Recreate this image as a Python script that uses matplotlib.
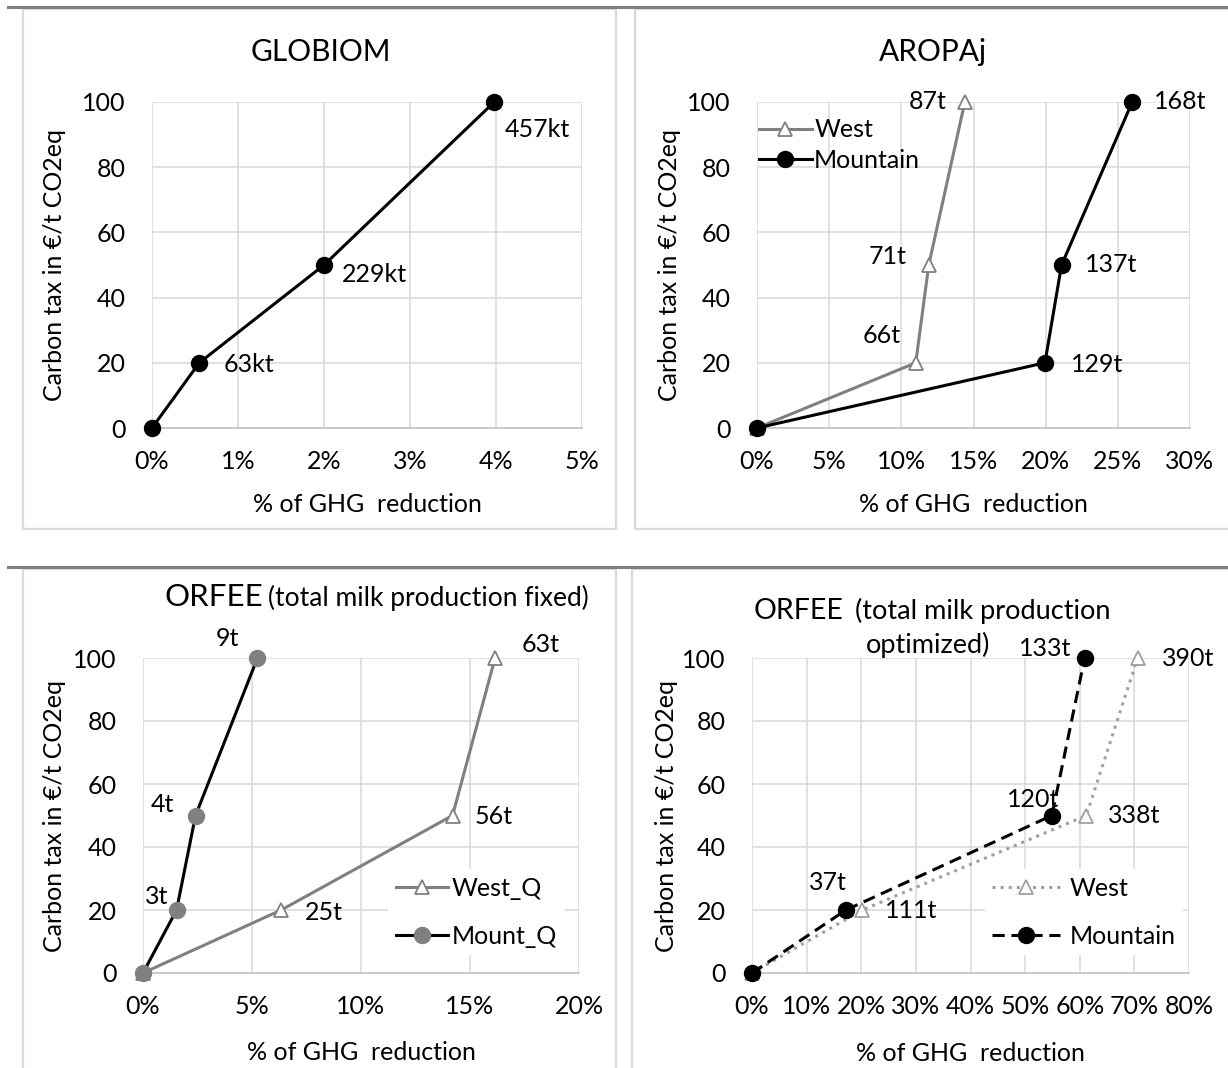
import matplotlib.pyplot as plt
from matplotlib.lines import Line2D
from matplotlib.patches import Rectangle

plt.rcParams['font.family'] = ['Lato', 'DejaVu Sans']
FS = 18

# carbon tax levels (€/t CO2eq)
tax = [0, 20, 50, 100]

# GLOBIOM
globiom_red = [0, 0.55, 2.0, 3.98]
globiom_lbl = ['', '63kt', '229kt', '457kt']

# AROPAj
aropaj_west = [0, 11.0, 11.9, 14.4]
aropaj_west_lbl = ['', '66t', '71t', '87t']
aropaj_mount = [0, 19.95, 21.1, 26.0]
aropaj_mount_lbl = ['', '129t', '137t', '168t']

# ORFEE, total milk production fixed
fix_west = [0, 6.34, 14.2, 16.15]
fix_west_lbl = ['', '25t', '56t', '63t']
fix_mount = [0, 1.54, 2.41, 5.25]
fix_mount_lbl = ['', '3t', '4t', '9t']

# ORFEE, total milk production optimized
opt_west = [0, 20.2, 61.2, 70.6]
opt_west_lbl = ['', '111t', '338t', '390t']
opt_mount = [0, 17.2, 54.9, 60.9]
opt_mount_lbl = ['', '37t', '120t', '133t']

W, H = 1228, 1068
fig = plt.figure(figsize=(W / 100, H / 100), dpi=100)


def fx(x):
    return x / W


def fy(y):
    return 1 - y / H


def make_axes(x0, x1, y0, y1):
    ax = fig.add_axes([fx(x0), fy(y1), (x1 - x0) / W, (y1 - y0) / H])
    ax.set_axisbelow(True)
    ax.grid(True, color='#D9D9D9', lw=1.1)
    for s in ['top', 'right', 'left']:
        ax.spines[s].set_visible(False)
    ax.spines['bottom'].set_color('#BFBFBF')
    ax.spines['bottom'].set_linewidth(1.1)
    ax.tick_params(axis='both', length=0, labelsize=FS)
    ax.tick_params(axis='y', pad=19)
    ax.tick_params(axis='x', pad=16)
    ax.set_ylim(0, 100)
    ax.set_yticks([0, 20, 40, 60, 80, 100])
    return ax


def finish(ax, xmax, step, ylab_x, xlab_y):
    ticks = list(range(0, xmax + 1, step))
    ax.set_xlim(0, xmax)
    ax.set_xticks(ticks, [f'{t}%' for t in ticks])
    ax.set_ylabel('Carbon tax in €/t CO2eq', fontsize=FS)
    ax.yaxis.set_label_coords(ylab_x, 0.5)
    ax.yaxis.label.set_va('center')
    ax.set_xlabel('% of GHG  reduction', fontsize=FS)
    ax.xaxis.set_label_coords(0.5, xlab_y)
    ax.xaxis.label.set_va('center')


def labels(ax, xs, ys, texts, offs, ha):
    for x, y, t, (dx, dy) in zip(xs, ys, texts, offs):
        if t:
            ax.annotate(t, (x, y), xytext=(dx * 0.72, -dy * 0.72), textcoords='offset points',
                        ha=ha, va='center', fontsize=FS)


# panel frames and separator lines
for x0, y0, x1, y1 in [(23, 9, 616, 529), (635, 9, 1240, 529), (23, 569, 616, 1075), (632, 569, 1240, 1075)]:
    fig.add_artist(Rectangle((fx(x0), fy(y1)), (x1 - x0) / W, (y1 - y0) / H, transform=fig.transFigure,
                             fill=False, ec='#D9D9D9', lw=1.6))
for yy in [6.5, 566.5]:
    fig.add_artist(Line2D([fx(8), 1], [fy(yy), fy(yy)], transform=fig.transFigure, color='#808080', lw=2.2))

black_kw = dict(color='black', lw=2.2, marker='o', ms=11.5, clip_on=False, zorder=3)
tri_kw = dict(color='#808080', lw=2.2, marker='^', ms=10, mfc='white', mec='#808080', mew=1.3,
              clip_on=False, zorder=3)

# GLOBIOM
ax1 = make_axes(152, 582, 102, 428)
ax1.plot(globiom_red, tax, **black_kw)
labels(ax1, globiom_red, tax, globiom_lbl, [(0, 0), (24, 2), (18, 9), (10, 28)], 'left')
finish(ax1, 5, 1, -0.2256, -0.236)
fig.text(fx(321), fy(52), 'GLOBIOM', ha='center', va='center', fontsize=21.5)

# AROPAj
ax2 = make_axes(757, 1190, 102, 428)
ax2.plot(aropaj_west, tax, label='West', **tri_kw)
ax2.plot(aropaj_mount, tax, label='Mountain', **black_kw)
labels(ax2, aropaj_west, tax, aropaj_west_lbl, [(0, 0), (-15, -27), (-22, -9), (-18, 0)], 'right')
labels(ax2, aropaj_mount, tax, aropaj_mount_lbl, [(0, 0), (26, 2), (23, 0), (22, 0)], 'left')
finish(ax2, 30, 5, -0.203, -0.236)
ax2.legend(loc='upper left', bbox_to_anchor=(0.005, 0.95), frameon=False, borderpad=0, borderaxespad=0,
           handlelength=2.1, handletextpad=0.1, labelspacing=0.3, fontsize=FS)
fig.text(fx(933), fy(52), 'AROPAj', ha='center', va='center', fontsize=21.5)

# ORFEE fixed
ax3 = make_axes(143, 579, 658, 973)
ax3.plot(fix_west, tax, label='West_Q', **tri_kw)
ax3.plot(fix_mount, tax, label='Mount_Q', color='black', lw=2.2, marker='o', ms=11.5,
         mfc='#808080', mec='#808080', clip_on=False, zorder=3)
labels(ax3, fix_west, tax, fix_west_lbl, [(0, 0), (24, 2), (22, 1), (27, -13)], 'left')
labels(ax3, fix_mount, tax, fix_mount_lbl, [(0, 0), (-20, -13), (-33, -11), (-30, -20)], 'center')
finish(ax3, 20, 5, -0.202, -0.251)
ax3.legend(loc='upper left', bbox_to_anchor=(0.562, 0.33), frameon=True, facecolor='white',
           edgecolor='none', framealpha=1, fancybox=False, borderpad=0.3, borderaxespad=0,
           handlelength=2.1, handletextpad=0.15, labelspacing=1.0, fontsize=FS)
fig.text(fx(164), fy(606), 'ORFEE', ha='left', va='baseline', fontsize=22.5)
fig.text(fx(268), fy(606), '(total milk production fixed)', ha='left', va='baseline', fontsize=19)

# ORFEE optimized
ax4 = make_axes(752, 1189, 658, 973)
ax4.plot(opt_west, tax, label='West', color='#A0A0A0', lw=2.2, ls=':', marker='^', ms=10,
         mfc='white', mec='#A0A0A0', mew=1.3, clip_on=False, zorder=3)
ax4.plot(opt_mount, tax, label='Mountain', color='black', lw=2.2, ls=(0, (4, 2.2)), marker='o',
         ms=11.5, clip_on=False, zorder=4)
labels(ax4, opt_west, tax, opt_west_lbl, [(0, 0), (23, 1), (22, 0), (24, 1)], 'left')
labels(ax4, opt_mount[:3], tax[:3], opt_mount_lbl[:3], [(0, 0), (-18, -27), (-19, -16)], 'center')
labels(ax4, opt_mount[3:], tax[3:], opt_mount_lbl[3:], [(-13, -9)], 'right')
finish(ax4, 80, 10, -0.195, -0.254)
ax4.legend(loc='upper left', bbox_to_anchor=(0.533, 0.33), frameon=True, facecolor='white',
           edgecolor='none', framealpha=1, fancybox=False, borderpad=0.3, borderaxespad=0,
           handlelength=2.7, handletextpad=0.4, labelspacing=1.0, fontsize=FS)
fig.text(fx(754), fy(619), 'ORFEE', ha='left', va='baseline', fontsize=20.5)
fig.text(fx(855), fy(619), '(total milk production', ha='left', va='baseline', fontsize=19.5)
fig.text(fx(928), fy(653), 'optimized)', ha='center', va='baseline', fontsize=19.5)

fig.savefig('out.png', dpi=100)
